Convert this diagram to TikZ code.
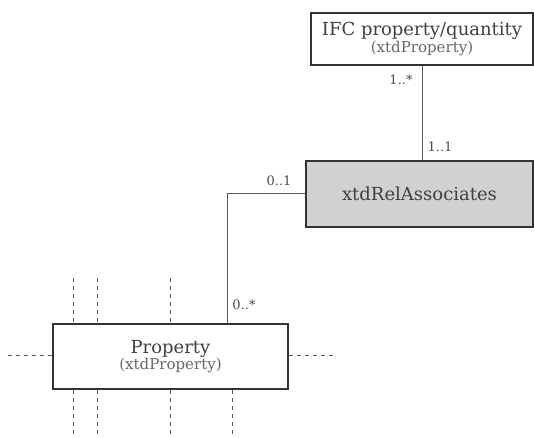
\documentclass[tikz,border=0pt]{standalone}
\usepackage{fontspec}
\setmainfont{DejaVu Serif}
\begin{document}
\begin{tikzpicture}[x=1pt,y=-1pt,
  box/.style={draw=black!80,line width=2pt,inner sep=0pt,text=black!75},
  conn/.style={draw=black!65,line width=1pt},
  dsh/.style={draw=black!65,line width=0.9pt,dash pattern=on 4pt off 4pt},
  mult/.style={font=\fontsize{13}{14}\selectfont,text=black!70,inner sep=0pt}]
\useasboundingbox (0,0) rectangle (534,437);
\node[box,minimum width=222,minimum height=52,anchor=north west,align=center] (ifc) at (310,12)
  {\fontsize{18}{19}\selectfont IFC property/quantity\\\fontsize{15}{17}\selectfont\color{black!60}(xtdProperty)};
\node[box,fill=black!18,minimum width=227,minimum height=66,anchor=north west] (rel) at (305,160)
  {\fontsize{18}{20}\selectfont xtdRelAssociates};
\node[box,minimum width=235,minimum height=65,anchor=north west,align=center] (prop) at (52,323)
  {\fontsize{18}{19}\selectfont Property\\\fontsize{15}{18}\selectfont\color{black!60}(xtdProperty)};
\coordinate (c1) at (422,64);
\coordinate (c2) at (422,160);
\draw[conn] (ifc.south -| c1) -- (rel.north -| c2);
\coordinate (bend) at (227,193);
\draw[conn] (rel.west |- bend) -- (bend) -- (bend |- prop.north);
\node[mult] (m1) at (401,80) {1..*};
\node[mult] (m2) at (440,147) {1..1};
\node[mult] (m3) at (279,181) {0..1};
\node[mult] (m4) at (244,305) {0..*};
\foreach \x in {73,97,170}{
  \coordinate (t\x) at (\x,278);
  \draw[dsh] (t\x) -- (t\x |- prop.north);
}
\foreach \x in {73,97,170,232}{
  \coordinate (b\x) at (\x,437);
  \draw[dsh] (b\x |- prop.south) -- (b\x);
}
\coordinate (hl) at (8,355);
\coordinate (hr) at (335,355);
\draw[dsh] (hl) -- (hl -| prop.west);
\draw[dsh] (hr -| prop.east) -- (hr);
\end{tikzpicture}
\end{document}
